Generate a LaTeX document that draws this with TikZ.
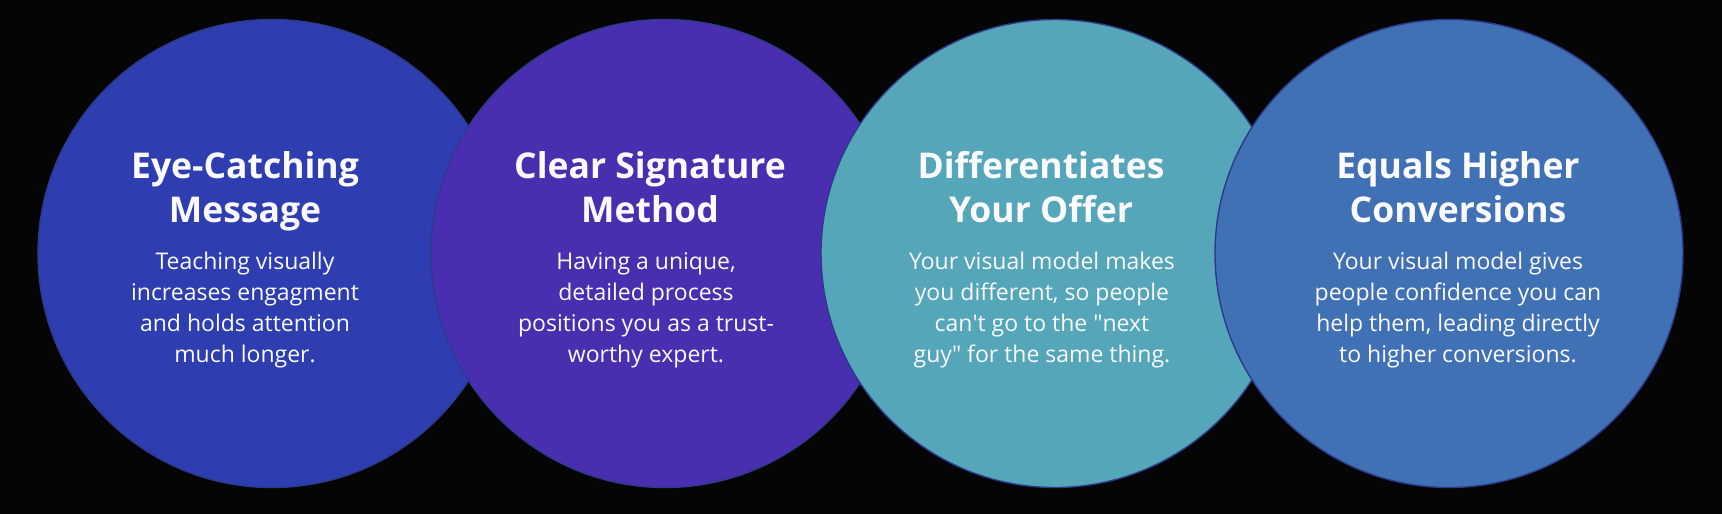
\documentclass[tikz,border=0pt]{standalone}
\usepackage{fontspec}
\setmainfont{Open Sans}
\definecolor{bgc}{HTML}{050505}
\definecolor{cone}{HTML}{2E3EB0}
\definecolor{ctwo}{HTML}{4A2EB0}
\definecolor{cthree}{HTML}{54A6B8}
\definecolor{cfour}{HTML}{4171B5}
\definecolor{rim}{HTML}{2D3A8C}
\definecolor{ink}{HTML}{FAFAFF}
\tikzset{
  disc/.style={circle, inner sep=0pt, minimum size=468pt, draw=rim, line width=1.4pt},
  headline/.style={anchor=north, inner sep=0pt, align=center, text=ink,
    font=\bfseries\fontsize{35.5}{44}\selectfont},
  bodytext/.style={anchor=north, inner sep=0pt, align=center, text=ink,
    font=\fontsize{23}{31}\selectfont}
}
\begin{document}
\begin{tikzpicture}[x=1pt,y=-1pt]
\fill[bgc] (0,0) rectangle (1722,514);
\useasboundingbox (0,0) rectangle (1722,514);
\node[disc, fill=cone]   (c1) at (272,253.5) {};
\node[disc, fill=ctwo]   (c2) at (665,253.5) {};
\node[disc, fill=cthree] (c3) at (1055,253.5) {};
\node[disc, fill=cfour]  (c4) at (1449,253.5) {};
\node[headline] (t1) at (245,151) {Eye-Catching\\Message};
\node[headline] (t2) at (650,151) {Clear Signature\\Method};
\node[headline] (t3) at (1041,151) {Differentiates\\Your Offer};
\node[headline] (t4) at (1458,151) {Equals Higher\\Conversions};
\node[bodytext] (b1) at (245,252) {Teaching visually\\increases engagment\\and holds attention\\much longer.};
\node[bodytext] (b2) at (646,252) {Having a unique,\\detailed process\\positions you as a trust-\\worthy expert.};
\node[bodytext] (b3) at (1042,252) {Your visual model makes\\you different, so people\\can\textquotesingle t go to the \textquotedbl next\\guy\textquotedbl{} for the same thing.};
\node[bodytext] (b4) at (1458,252) {Your visual model gives\\people confidence you can\\help them, leading directly\\to higher conversions.};
\end{tikzpicture}
\end{document}
